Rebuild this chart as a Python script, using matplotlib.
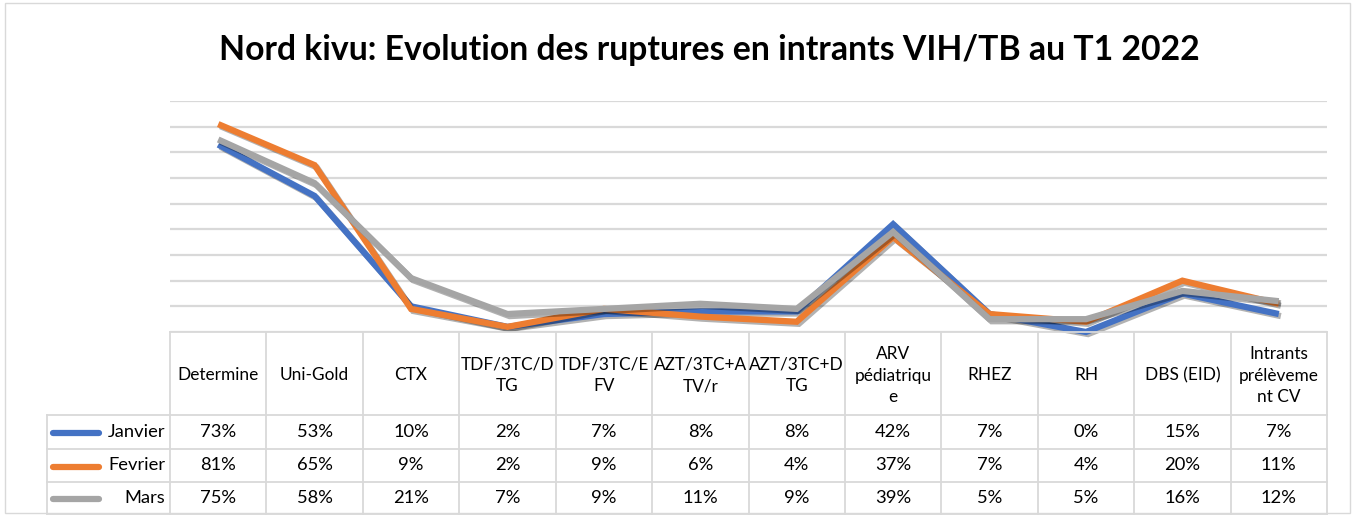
import matplotlib
matplotlib.use("Agg")
import matplotlib.pyplot as plt
import matplotlib.patheffects as pe
from matplotlib.lines import Line2D
from matplotlib.patches import Rectangle
from matplotlib.transforms import blended_transform_factory

categories = ["Determine", "Uni-Gold", "CTX", "TDF/3TC/D\nTG", "TDF/3TC/E\nFV",
              "AZT/3TC+A\nTV/r", "AZT/3TC+D\nTG", "ARV\npédiatriqu\ne", "RHEZ", "RH",
              "DBS (EID)", "Intrants\nprélèveme\nnt CV"]
series_names = ["Janvier", "Fevrier", "Mars"]
janvier = [73, 53, 10, 2, 7, 8, 8, 42, 7, 0, 15, 7]
fevrier = [81, 65, 9, 2, 9, 6, 4, 37, 7, 4, 20, 11]
mars = [75, 58, 21, 7, 9, 11, 9, 39, 5, 5, 16, 12]
series_values = [janvier, fevrier, mars]
colors = ["#4472C4", "#ED7D31", "#A5A5A5"]
title = "Nord kivu: Evolution des ruptures en intrants VIH/TB au T1 2022"

W, H = 1354, 515
fig = plt.figure(figsize=(W / 100, H / 100), dpi=100)
FONT = "Lato"

def fx(x):
    return x / W

def fy(y):
    return 1 - y / H

# outer chart border
fig.add_artist(Rectangle((fx(5), fy(513)), fx(1350) - fx(5), fy(3) - fy(513),
                         transform=fig.transFigure, fill=False, edgecolor="#D9D9D9", lw=1))

ax_left, ax_right, ax_top, ax_bottom = 170, 1327, 101, 332
ax = fig.add_axes([fx(ax_left), fy(ax_bottom), fx(ax_right) - fx(ax_left), fy(ax_top) - fy(ax_bottom)])
n = len(categories)
ax.set_xlim(-0.5, n - 0.5)
ax.set_ylim(0, 90)
ax.set_yticks(range(0, 91, 10))
ax.yaxis.grid(True, color="#D9D9D9", lw=1.6)
ax.set_axisbelow(True)
ax.tick_params(left=False, bottom=False, labelleft=False, labelbottom=False)
for s in ax.spines.values():
    s.set_visible(False)

x = list(range(n))
for name, vals, c in zip(series_names, series_values, colors):
    ax.plot(x, vals, color=c, lw=4.5, solid_joinstyle="miter", solid_capstyle="butt",
            path_effects=[pe.SimpleLineShadow(offset=(1.5, -1.5), shadow_color="black", alpha=0.3),
                          pe.Normal()], clip_on=False)

# title
fig.text(fx(709), fy(50), title, ha="center", va="center", fontsize=24.3,
         fontweight="bold", family=FONT, color="#000000")

# data table
grid_c = "#D9D9D9"
trans = blended_transform_factory(ax.transData, fig.transFigure)
header_top, header_bot = 332, 415
row_bounds = [415, 449, 482, 514]
label_left = 47

def hline(y, x0, x1):
    fig.add_artist(Line2D([fx(x0), fx(x1)], [fy(y), fy(y)], transform=fig.transFigure,
                          color=grid_c, lw=1.3))

hline(header_top, ax_left, ax_right)
for y in row_bounds:
    hline(y, label_left, ax_right)

for i in range(n + 1):
    xv = i - 0.5
    fig.add_artist(Line2D([xv, xv], [fy(header_top), fy(row_bounds[-1])], transform=trans,
                          color=grid_c, lw=1.3))
fig.add_artist(Line2D([fx(label_left), fx(label_left)], [fy(row_bounds[0]), fy(row_bounds[-1])],
                      transform=fig.transFigure, color=grid_c, lw=1.3))

fs = 13.2
fs_head = 12.4
for i, cat in enumerate(categories):
    fig.text(i, fy((header_top + header_bot) / 2 + 2), cat, transform=trans, ha="center",
             va="center", fontsize=fs_head, family=FONT, linespacing=1.45)

for r, (name, vals, c) in enumerate(zip(series_names, series_values, colors)):
    yc = (row_bounds[r] + row_bounds[r + 1]) / 2
    fig.add_artist(Line2D([fx(53), fx(99)], [fy(yc + 1), fy(yc + 1)], transform=fig.transFigure,
                          color=c, lw=4.5, solid_capstyle="round"))
    fig.text(fx(165), fy(yc), name, ha="right", va="center", fontsize=fs, family=FONT)
    for i, v in enumerate(vals):
        fig.text(i, fy(yc), f"{v}%", transform=trans, ha="center", va="center",
                 fontsize=fs, family=FONT)

fig.savefig("out.png", dpi=100, facecolor="white")
